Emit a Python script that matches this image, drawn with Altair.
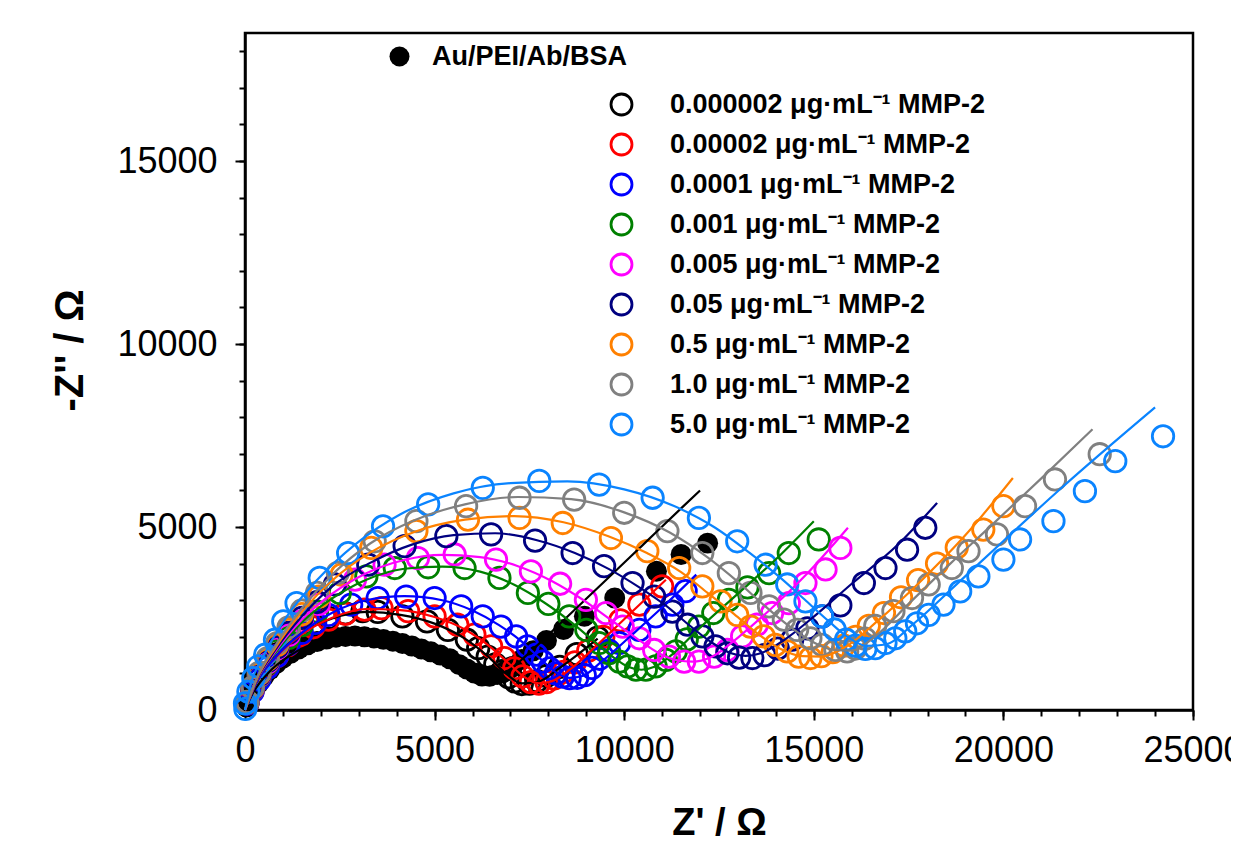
import altair as alt
import pandas as pd

F = "Liberation Sans"

names = [
    "Au/PEI/Ab/BSA",
    "0.000002 μg·mL⁻¹ MMP-2",
    "0.00002 μg·mL⁻¹ MMP-2",
    "0.0001 μg·mL⁻¹ MMP-2",
    "0.001 μg·mL⁻¹ MMP-2",
    "0.005 μg·mL⁻¹ MMP-2",
    "0.05 μg·mL⁻¹ MMP-2",
    "0.5 μg·mL⁻¹ MMP-2",
    "1.0 μg·mL⁻¹ MMP-2",
    "5.0 μg·mL⁻¹ MMP-2",
]
colors = ["#000000", "#000000", "#FF0000", "#0000FF", "#008000", "#FF00FF",
          "#000080", "#FF8000", "#808080", "#0A84FF"]

# measured points (Z', -Z'')
bsa_pts = [(40, 80), (120, 300), (230, 520), (360, 730), (500, 920), (650, 1100), (820, 1270),
           (1000, 1420), (1200, 1550), (1420, 1670), (1650, 1780), (1900, 1870), (2150, 1940),
           (2400, 1990), (2650, 2010), (2900, 2020), (3150, 2000), (3400, 1970), (3650, 1930),
           (3900, 1880), (4150, 1820), (4400, 1750), (4650, 1670), (4900, 1590), (5150, 1500),
           (5400, 1400), (5650, 1240), (5850, 1120), (6050, 1010), (6250, 930), (6450, 920),
           (6650, 970), (6850, 1060), (7050, 1190), (7300, 1380), (7600, 1620), (7950, 1900),
           (8400, 2200), (8950, 2560), (9750, 3060), (10850, 3790), (11500, 4250), (12200, 4560)]
s1_pts = [(60, 200), (200, 560), (380, 900), (600, 1220), (850, 1530), (1130, 1820), (1450, 2090),
          (1800, 2330), (2200, 2520), (2650, 2640), (3100, 2700), (3500, 2680), (4150, 2560),
          (4800, 2420), (5350, 2190), (5850, 1920), (6150, 1690), (6400, 1460), (6600, 1250),
          (6780, 1060), (6950, 900), (7120, 780), (7300, 710), (7500, 720), (7700, 790),
          (7950, 930), (8300, 1180), (8750, 1530), (9300, 1980)]
red_pts = [(60, 180), (200, 520), (380, 860), (600, 1180), (850, 1480), (1130, 1770), (1450, 2030),
           (1800, 2260), (2200, 2470), (2650, 2630), (3150, 2740), (3600, 2785), (4300, 2700),
           (5000, 2560), (5600, 2330), (6050, 2060), (6490, 1740), (6840, 1420), (7100, 1140),
           (7320, 920), (7540, 760), (7750, 720), (7950, 760), (8150, 860), (8400, 1040),
           (8700, 1300), (9050, 1620), (9450, 2000), (9900, 2450), (10400, 2880), (11000, 3380)]
blue_pts = [(60, 170), (200, 500), (380, 830), (600, 1160), (850, 1480), (1150, 1800), (1500, 2110),
            (1850, 2380), (2200, 2600), (2800, 2880), (3500, 3060), (4250, 3100), (5000, 3060),
            (5700, 2830), (6270, 2560), (6750, 2280), (7150, 2010), (7450, 1740), (7680, 1510),
            (7850, 1320), (8030, 1140), (8200, 1000), (8380, 910), (8560, 870), (8760, 880),
            (8960, 950), (9150, 1150), (9350, 1400), (9600, 1620), (9870, 1830), (10400, 2190),
            (10830, 2560), (11270, 2880), (11620, 3250)]
green_pts = [(60, 190), (200, 560), (380, 920), (600, 1280), (850, 1620), (1150, 1970), (1500, 2320),
             (1900, 2690), (2500, 3200), (3200, 3650), (3950, 3880), (4830, 3900), (5790, 3880),
             (6710, 3610), (7460, 3200), (8000, 2900), (8550, 2560), (9000, 2190), (9340, 1830),
             (9600, 1550), (9870, 1320), (10090, 1190), (10310, 1100), (10570, 1100), (10830, 1190),
             (11100, 1370), (11360, 1600), (11650, 1930), (11970, 2280), (12350, 2650), (12760, 3010),
             (13250, 3350), (13820, 3740), (14340, 4290), (15130, 4660)]
mag_pts = [(60, 190), (200, 570), (380, 940), (600, 1310), (850, 1680), (1150, 2050), (1500, 2430),
           (1950, 2900), (2900, 3560), (3680, 3970), (4560, 4150), (5530, 4250), (6620, 4110),
           (7540, 3790), (8310, 3450), (8990, 3010), (9520, 2650), (9960, 2280), (10400, 1960),
           (10790, 1640), (11180, 1460), (11580, 1320), (11970, 1320), (12370, 1460), (12720, 1640),
           (13110, 2010), (13500, 2330), (13900, 2650), (14340, 2920), (14780, 3470), (15310, 3840),
           (15700, 4430)]
navy_pts = [(60, 200), (200, 580), (380, 960), (600, 1340), (850, 1720), (1150, 2110), (1500, 2520),
            (1900, 2950), (2370, 3430), (3250, 3970), (4210, 4480), (5310, 4750), (6490, 4800),
            (7650, 4630), (8640, 4290), (9470, 3930), (10220, 3470), (10790, 3100), (11270, 2690),
            (11670, 2330), (12060, 2010), (12410, 1740), (12720, 1550), (13030, 1430), (13380, 1420),
            (13700, 1500), (14050, 1680), (14430, 1920), (14830, 2230), (15220, 2560), (15700, 2860),
            (16320, 3470), (16890, 3880), (17460, 4380), (17940, 4980)]
orange_pts = [(60, 210), (200, 600), (380, 990), (600, 1380), (850, 1780), (1150, 2190), (1500, 2620),
              (1950, 3100), (2550, 3700), (3330, 4430), (4520, 4890), (5880, 5200), (7240, 5250),
              (8380, 5110), (9650, 4700), (10610, 4340), (11450, 3880), (12060, 3380), (12540, 2970),
              (12980, 2600), (13330, 2280), (13680, 2010), (13990, 1780), (14300, 1600), (14600, 1460),
              (14910, 1420), (15200, 1470), (15500, 1580), (15800, 1760), (16100, 2000), (16450, 2300),
              (16850, 2650), (17300, 3080), (17750, 3550), (18250, 4000), (18770, 4440), (19470, 4930),
              (20000, 5570)]
gray_pts = [(60, 220), (200, 620), (380, 1020), (600, 1420), (850, 1830), (1150, 2260), (1500, 2720),
            (1900, 3200), (2450, 3750), (3420, 4610), (4520, 5160), (5830, 5570), (7240, 5800),
            (8680, 5750), (10000, 5390), (11140, 4890), (12060, 4290), (12760, 3740), (13330, 3200),
            (13820, 2830), (14210, 2470), (14560, 2190), (14910, 1960), (15220, 1780), (15570, 1640),
            (15880, 1600), (16100, 1680), (16350, 1950), (16620, 2300), (17100, 2700), (17590, 3060),
            (18030, 3430), (18640, 3880), (19080, 4340), (19830, 4800), (20570, 5570), (21360, 6300),
            (22540, 6990)]
lb_pts = [(10, 30), (0, 180), (90, 500), (220, 870), (350, 1190), (530, 1510), (790, 1920),
          (1010, 2420), (1360, 2920), (1970, 3610), (2720, 4290), (3640, 5020), (4830, 5620),
          (6270, 6070), (7760, 6260), (9340, 6160), (10750, 5800), (11970, 5250), (12980, 4610),
          (13730, 3970), (14300, 3430), (14780, 2970), (15220, 2560), (15550, 2200), (15850, 1920),
          (16100, 1760), (16360, 1670), (16620, 1690), (16890, 1830), (17150, 1960), (17410, 2150),
          (17720, 2370), (18030, 2600), (18420, 2880), (18860, 3240), (19340, 3650), (20000, 4110),
          (20440, 4660), (21320, 5160), (22150, 5980), (22950, 6800), (24210, 7480)]

# fitted curves
bsa_fit = [(0, 0), (200, 450), (600, 1000), (1200, 1500), (2000, 1880), (2900, 2010), (3800, 1910),
           (4700, 1640), (5500, 1330), (6100, 1040), (6500, 960), (6900, 1050), (7300, 1380),
           (7700, 1760), (8500, 2550), (9500, 3530), (10500, 4520), (11500, 5510), (12000, 6000)]
s1_fit = [(0, 0), (300, 760), (800, 1450), (1500, 2100), (2300, 2500), (3200, 2680), (4100, 2600),
          (5000, 2360), (5800, 1950), (6400, 1470), (6900, 980), (7300, 730), (7700, 760),
          (8300, 1150), (9300, 1950)]
red_fit = [(0, 0), (300, 750), (800, 1430), (1500, 2070), (2300, 2520), (3200, 2760), (4100, 2730),
           (5000, 2540), (5800, 2200), (6500, 1700), (7000, 1230), (7400, 880), (7750, 730),
           (8100, 790), (8600, 1130), (9300, 1790), (10200, 2680), (11100, 3560)]
blue_fit = [(0, 0), (300, 740), (800, 1440), (1500, 2110), (2300, 2660), (3200, 3000), (4200, 3110),
            (5200, 3000), (6000, 2720), (6700, 2320), (7300, 1870), (7800, 1390), (8200, 1030),
            (8550, 880), (8900, 930), (9400, 1320), (10200, 2050), (11000, 2800), (11900, 3700)]
green_fit = [(0, 0), (300, 780), (800, 1560), (1500, 2400), (2300, 3050), (3200, 3560), (4200, 3860),
             (5200, 3920), (6200, 3780), (7100, 3420), (7900, 2930), (8600, 2400), (9200, 1880),
             (9700, 1450), (10100, 1180), (10450, 1100), (10800, 1180), (11300, 1550), (12000, 2250),
             (13000, 3180), (14000, 4120), (15000, 5160)]
mag_fit = [(0, 0), (300, 790), (800, 1600), (1500, 2470), (2300, 3180), (3200, 3740), (4200, 4100),
           (5200, 4240), (6200, 4180), (7200, 3930), (8100, 3520), (8900, 3020), (9600, 2500),
           (10300, 1980), (10900, 1560), (11400, 1360), (11800, 1320), (12300, 1450), (13000, 1980),
           (13800, 2700), (14800, 3700), (15900, 4980)]
navy_fit = [(0, 0), (300, 800), (800, 1640), (1500, 2560), (2300, 3380), (3300, 4020), (4400, 4520),
            (5500, 4780), (6600, 4830), (7700, 4640), (8700, 4290), (9600, 3850), (10400, 3350),
            (11100, 2850), (11700, 2330), (12300, 1850), (12800, 1560), (13200, 1480), (13600, 1550),
            (14200, 1900), (15000, 2550), (16000, 3450), (17200, 4500), (18250, 5660)]
orange_fit = [(0, 0), (300, 820), (800, 1700), (1500, 2680), (2300, 3540), (3300, 4300), (4500, 4880),
              (5800, 5200), (7100, 5300), (8400, 5130), (9600, 4740), (10600, 4290), (11500, 3770),
              (12200, 3200), (12900, 2620), (13500, 2100), (14100, 1680), (14700, 1470), (15200, 1460),
              (15800, 1700), (16700, 2450), (17800, 3500), (19000, 4780), (20250, 6340)]
gray_fit = [(0, 0), (300, 850), (800, 1760), (1500, 2780), (2300, 3700), (3300, 4550), (4500, 5200),
            (5800, 5620), (7200, 5820), (8600, 5760), (10000, 5400), (11200, 4850), (12200, 4170),
            (13000, 3500), (13700, 2850), (14300, 2330), (14900, 1900), (15500, 1650), (16000, 1620),
            (16600, 2000), (17500, 2900), (18600, 4000), (19700, 5060), (21000, 6330), (22350, 7670)]
lb_fit = [(0, 0), (150, 700), (500, 1500), (1100, 2550), (1900, 3550), (2900, 4520), (4100, 5350),
          (5500, 5920), (7000, 6200), (8500, 6250), (10000, 6030), (11300, 5580), (12400, 4980),
          (13300, 4300), (14100, 3630), (14800, 2980), (15400, 2420), (15900, 1990), (16400, 1750),
          (16900, 1790), (17600, 2330), (18700, 3370), (20000, 4620), (21500, 6040), (24000, 8270)]

all_pts = [bsa_pts, s1_pts, red_pts, blue_pts, green_pts, mag_pts, navy_pts, orange_pts, gray_pts, lb_pts]
all_fit = [bsa_fit, s1_fit, red_fit, blue_fit, green_fit, mag_fit, navy_fit, orange_fit, gray_fit, lb_fit]

pt_rows, fit_rows = [], []
for k, (name, pts, fit) in enumerate(zip(names, all_pts, all_fit)):
    for j, (x, y) in enumerate(pts):
        pt_rows.append({"series": name, "k": k, "j": j, "x": x, "y": y})
    for j, (x, y) in enumerate(fit):
        fit_rows.append({"series": name, "k": k, "j": j, "x": x, "y": y})
pts_df = pd.DataFrame(pt_rows)
fit_df = pd.DataFrame(fit_rows)

xs = alt.Scale(domain=[0, 25000], nice=False, zero=False)
ys = alt.Scale(domain=[0, 18500], nice=False, zero=False)

major_x = alt.Axis(values=[0, 5000, 10000, 15000, 20000, 25000], orient="bottom", format="d",
                   tickSize=10, tickWidth=2, tickColor="black", domainColor="black", domainWidth=2.5,
                   labelFont=F, labelFontSize=36, labelColor="black", labelPadding=13,
                   labelFlush=False, labelOverlap=False, grid=False,
                   title="Z' / Ω", titleFont=F, titleFontSize=38, titleFontWeight="bold",
                   titleColor="black", titleX=474, titleY=113, titleBaseline="middle")
minor_x = alt.Axis(values=list(range(0, 25001, 1000)), orient="bottom", tickSize=6, tickWidth=2,
                   tickColor="black", labels=False, domain=False, grid=False, title=None)
major_y = alt.Axis(values=[0, 5000, 10000, 15000], orient="left", format="d",
                   tickSize=10, tickWidth=2, tickColor="black", domainColor="black", domainWidth=2.5,
                   labelFont=F, labelFontSize=36, labelColor="black", labelPadding=18,
                   labelFlush=False, labelOverlap=False, grid=False,
                   title="-Z'' / Ω", titleFont=F, titleFontSize=40, titleFontWeight="bold",
                   titleColor="black", titleX=-175, titleY=317, titleBaseline="middle")
minor_y = alt.Axis(values=list(range(0, 18001, 1000)), orient="left", tickSize=6, tickWidth=2,
                   tickColor="black", labels=False, domain=False, grid=False, title=None)

bsa_layer = alt.Chart(pts_df[pts_df.k == 0]).mark_point(
    filled=True, shape="circle", size=440, opacity=1, strokeWidth=0
).encode(
    x=alt.X("x:Q", scale=xs, axis=None),
    y=alt.Y("y:Q", scale=ys, axis=None),
    fill=alt.Fill("series:N", scale=alt.Scale(domain=names[:1], range=colors[:1]),
                  legend=alt.Legend(title=None, orient="none", legendX=141, legendY=10, padding=0,
                                    labelFont=F, labelFontSize=27, labelFontWeight="bold",
                                    labelColor="black", labelOffset=19, labelLimit=800,
                                    symbolType="circle", symbolSize=400, symbolStrokeWidth=0)),
)

open_layer = alt.Chart(pts_df[pts_df.k > 0]).mark_point(
    filled=False, shape="circle", size=460, opacity=1, strokeWidth=2.8
).encode(
    x=alt.X("x:Q", scale=xs, axis=major_x),
    y=alt.Y("y:Q", scale=ys, axis=major_y),
    stroke=alt.Stroke("series:N", scale=alt.Scale(domain=names[1:], range=colors[1:]),
                      legend=alt.Legend(title=None, orient="none", legendX=363, legendY=58, padding=0,
                                        labelFont=F, labelFontSize=27, labelFontWeight="bold",
                                        labelColor="black", labelOffset=35, labelLimit=800,
                                        rowPadding=7, symbolType="circle", symbolSize=440,
                                        symbolStrokeWidth=2.8, symbolFillColor="transparent")),
)

line_layer = alt.Chart(fit_df).mark_line(strokeWidth=2.2, interpolate="monotone").encode(
    x=alt.X("x:Q", scale=xs, axis=minor_x),
    y=alt.Y("y:Q", scale=ys, axis=minor_y),
    color=alt.Color("series:N", scale=alt.Scale(domain=names, range=colors), legend=None),
    detail="k:N",
    order="j:Q",
)

chart = alt.layer(bsa_layer, open_layer, line_layer).resolve_axis(
    x="independent", y="independent"
).properties(
    width=948, height=677,
    autosize=alt.AutoSizeParams(type="none"),
    padding={"left": 237, "top": 25, "right": 38, "bottom": 132},
).configure_view(stroke="black", strokeWidth=2.5)

chart.save("out.html", embed_options={"renderer": "svg", "actions": False})
